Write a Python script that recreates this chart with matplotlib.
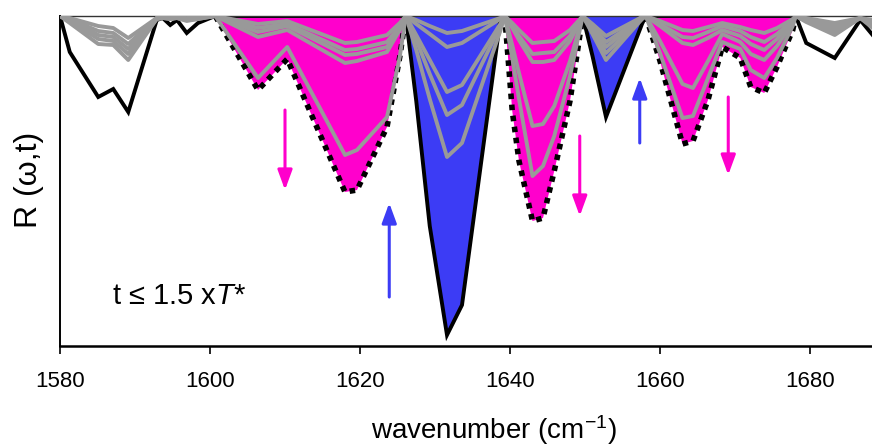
import numpy as np
import matplotlib
matplotlib.use("Agg")
import matplotlib.pyplot as plt
from matplotlib import font_manager

# wavenumber grid (cm^-1) shared by all spectra
wn = [1580.0, 1581.3, 1585.1, 1587.1, 1589.1, 1592.9, 1593.7, 1594.7, 1595.6, 1596.9,
      1598.4, 1600.7, 1606.4, 1610.3, 1618.0, 1619.6, 1623.6, 1625.3, 1626.1, 1627.5,
      1629.3, 1631.6, 1633.6, 1638.7, 1639.3, 1640.3, 1641.2, 1643.0, 1644.4, 1645.9,
      1648.0, 1649.7, 1651.0, 1652.8, 1657.6, 1658.1, 1660.0, 1663.0, 1664.4, 1666.4,
      1668.3, 1670.7, 1672.1, 1673.9, 1675.6, 1677.7, 1678.1, 1679.5, 1683.3, 1686.7,
      1690.0]

# R(w,t) at t = 0 (solid black)
r_start = [0, -0.36, -0.81, -0.73, -0.96, -0.04, -0.02, -0.09, -0.04, -0.17,
           -0.07, 0, 0, 0, 0, 0, 0, 0, 0, -0.85,
           -2.10, -3.19, -2.89, -0.04, 0, 0, 0, 0, 0, 0,
           0, 0, -0.40, -1.01, -0.08, 0, 0, 0, 0, 0,
           0, 0, 0, 0, 0, 0, 0, -0.27, -0.42, -0.04,
           -0.34]

# intermediate times (grey), earliest first
r_mid = [
    [0, -0.07, -0.28, -0.29, -0.44, -0.03, -0.02, -0.03, -0.02, -0.05,
     -0.03, 0, -0.08, -0.05, -0.27, -0.26, -0.19, -0.07, 0, -0.34,
     -0.83, -1.41, -1.27, -0.15, 0, -0.07, -0.14, -0.27, -0.26, -0.25,
     -0.14, 0, -0.18, -0.44, -0.03, 0, -0.05, -0.14, -0.15, -0.11,
     -0.07, -0.11, -0.14, -0.17, -0.12, -0.03, 0, -0.06, -0.19, -0.02,
     -0.22],
    [0, -0.05, -0.23, -0.25, -0.38, -0.03, -0.02, -0.03, -0.02, -0.04,
     -0.03, 0, -0.12, -0.08, -0.34, -0.33, -0.26, -0.10, 0, -0.24,
     -0.58, -0.99, -0.89, -0.10, 0, -0.10, -0.20, -0.38, -0.37, -0.36,
     -0.20, 0, -0.15, -0.37, -0.03, 0, -0.08, -0.21, -0.22, -0.16,
     -0.10, -0.15, -0.21, -0.26, -0.18, -0.04, 0, -0.05, -0.16, -0.02,
     -0.18],
    [0, -0.04, -0.19, -0.21, -0.33, -0.02, -0.02, -0.02, -0.02, -0.04,
     -0.02, 0, -0.16, -0.10, -0.39, -0.38, -0.31, -0.12, 0, -0.19,
     -0.44, -0.76, -0.69, -0.08, 0, -0.12, -0.24, -0.46, -0.46, -0.44,
     -0.25, 0, -0.12, -0.31, -0.02, 0, -0.10, -0.27, -0.29, -0.22,
     -0.14, -0.20, -0.28, -0.34, -0.23, -0.05, 0, -0.04, -0.13, -0.02,
     -0.14],
    [0, -0.03, -0.15, -0.17, -0.28, -0.02, -0.01, -0.02, -0.01, -0.03,
     -0.02, 0, -0.21, -0.14, -0.47, -0.45, -0.36, -0.14, 0, -0.08,
     -0.18, -0.31, -0.27, -0.03, 0, -0.29, -0.57, -1.10, -1.08, -0.90,
     -0.45, 0, -0.10, -0.26, -0.02, 0, -0.25, -0.68, -0.72, -0.45,
     -0.18, -0.26, -0.38, -0.44, -0.30, -0.07, 0, -0.03, -0.10, -0.02,
     -0.10],
    [0, -0.02, -0.10, -0.12, -0.22, -0.02, -0.01, -0.02, -0.01, -0.02,
     -0.01, 0, -0.62, -0.31, -1.39, -1.34, -1.01, -0.41, 0, -0.04,
     -0.10, -0.17, -0.15, -0.02, 0, -0.42, -0.83, -1.60, -1.50, -1.20,
     -0.60, 0, -0.08, -0.20, -0.01, 0, -0.37, -1.02, -1.00, -0.62,
     -0.26, -0.33, -0.54, -0.62, -0.42, -0.10, 0, -0.02, -0.07, -0.02,
     -0.06],
]

# R(w,t) at t = 1.5 T* (dotted black)
r_end = [0, -0.01, -0.03, -0.03, -0.05, -0.01, 0, -0.01, 0, -0.01,
         -0.01, 0, -0.74, -0.43, -1.76, -1.74, -1.11, -0.41, 0, -0.02,
         -0.04, -0.06, -0.05, -0.01, 0, -0.95, -1.45, -2.05, -2.02, -1.55,
         -0.85, 0, -0.03, -0.08, -0.01, 0, -0.45, -1.28, -1.25, -0.84,
         -0.31, -0.42, -0.71, -0.77, -0.51, -0.14, 0, -0.01, -0.03, -0.01,
         -0.03]

# bands where the band grows (magenta) or shrinks (blue)
grow_bands = [(1600.7, 1626.1), (1639.3, 1649.7), (1658.1, 1678.1)]
decay_bands = [(1626.1, 1639.3), (1649.7, 1658.1)]

MAGENTA = "#ff00cc"
BLUE = "#3c3cf5"
GREY = "#999999"

names = {f.name for f in font_manager.fontManager.ttflist}
narrow = "Liberation Sans Narrow" if "Liberation Sans Narrow" in names else "Liberation Sans"
plt.rcParams["font.family"] = ["Liberation Sans", "DejaVu Sans"]
plt.rcParams["mathtext.fontset"] = "custom"
plt.rcParams["mathtext.rm"] = narrow
plt.rcParams["mathtext.it"] = "Liberation Sans:italic"


def in_bands(x, bands):
    mask = np.zeros(len(x), dtype=bool)
    for lo, hi in bands:
        mask |= (x >= lo) & (x <= hi)
    return mask


x = np.array(wn)
y0 = np.array(r_start)
y1 = np.array(r_end)
grow = in_bands(x, grow_bands)
decay = in_bands(x, decay_bands)

fig = plt.figure(figsize=(8.72, 4.48), dpi=100)
ax = fig.add_axes([60 / 872, 1 - 346 / 448, 812 / 872, 330 / 448])

ax.fill_between(x, 0, y1, where=grow, color=MAGENTA, lw=0, zorder=1)
ax.fill_between(x, 0, y0, where=decay, color=BLUE, lw=0, zorder=1)

ax.plot(x, y0, color="black", lw=2.8, solid_joinstyle="miter", zorder=2)
ax.plot(x, np.where(grow, y1, np.nan), color="black", lw=4.0,
        linestyle=(0, (1, 1)), dash_capstyle="butt", zorder=3)
for r in r_mid:
    ax.plot(x, r, color=GREY, lw=2.8, zorder=4)

# arrows show the direction of change with time
arrows = [(1610.0, -0.94, -1.74, MAGENTA), (1623.9, -2.81, -1.87, BLUE),
          (1649.3, -1.20, -2.00, MAGENTA), (1657.3, -1.27, -0.62, BLUE),
          (1669.1, -0.81, -1.59, MAGENTA)]
for ax_x, tail, head, c in arrows:
    ax.annotate("", xy=(ax_x, head), xytext=(ax_x, tail),
                arrowprops=dict(arrowstyle="-|>,head_length=0.6,head_width=0.22",
                                color=c, lw=2.2, mutation_scale=20,
                                shrinkA=0, shrinkB=0), zorder=5)

ax.text(1586.9, -2.80, r"t ≤ 1.5 x$T$*", fontsize=21, va="center", ha="left")

ax.set_xlim(1580, 1580 + 812 / 7.5)
ax.set_ylim(-3.30, 0)
ax.set_xticks([1580, 1600, 1620, 1640, 1660, 1680])
ax.set_yticks([])
ax.tick_params(axis="x", direction="out", length=6, width=1.2, pad=12,
               labelsize=16)
for lab in ax.get_xticklabels():
    lab.set_fontfamily(narrow)
ax.spines["right"].set_visible(False)
ax.spines["top"].set_linewidth(1.0)
ax.spines["top"].set_color("#333333")
ax.spines["left"].set_linewidth(1.4)
ax.spines["bottom"].set_linewidth(1.8)

fig.text(494 / 872, 1 - 430 / 448, r"wavenumber (cm$^{-1}$)", family=narrow,
         fontsize=20, ha="center", va="center")
fig.text(29 / 872, 1 - 180 / 448, "R (ω,t)", fontsize=23, rotation=90,
         ha="center", va="center")

fig.savefig("out.png", dpi=100)
